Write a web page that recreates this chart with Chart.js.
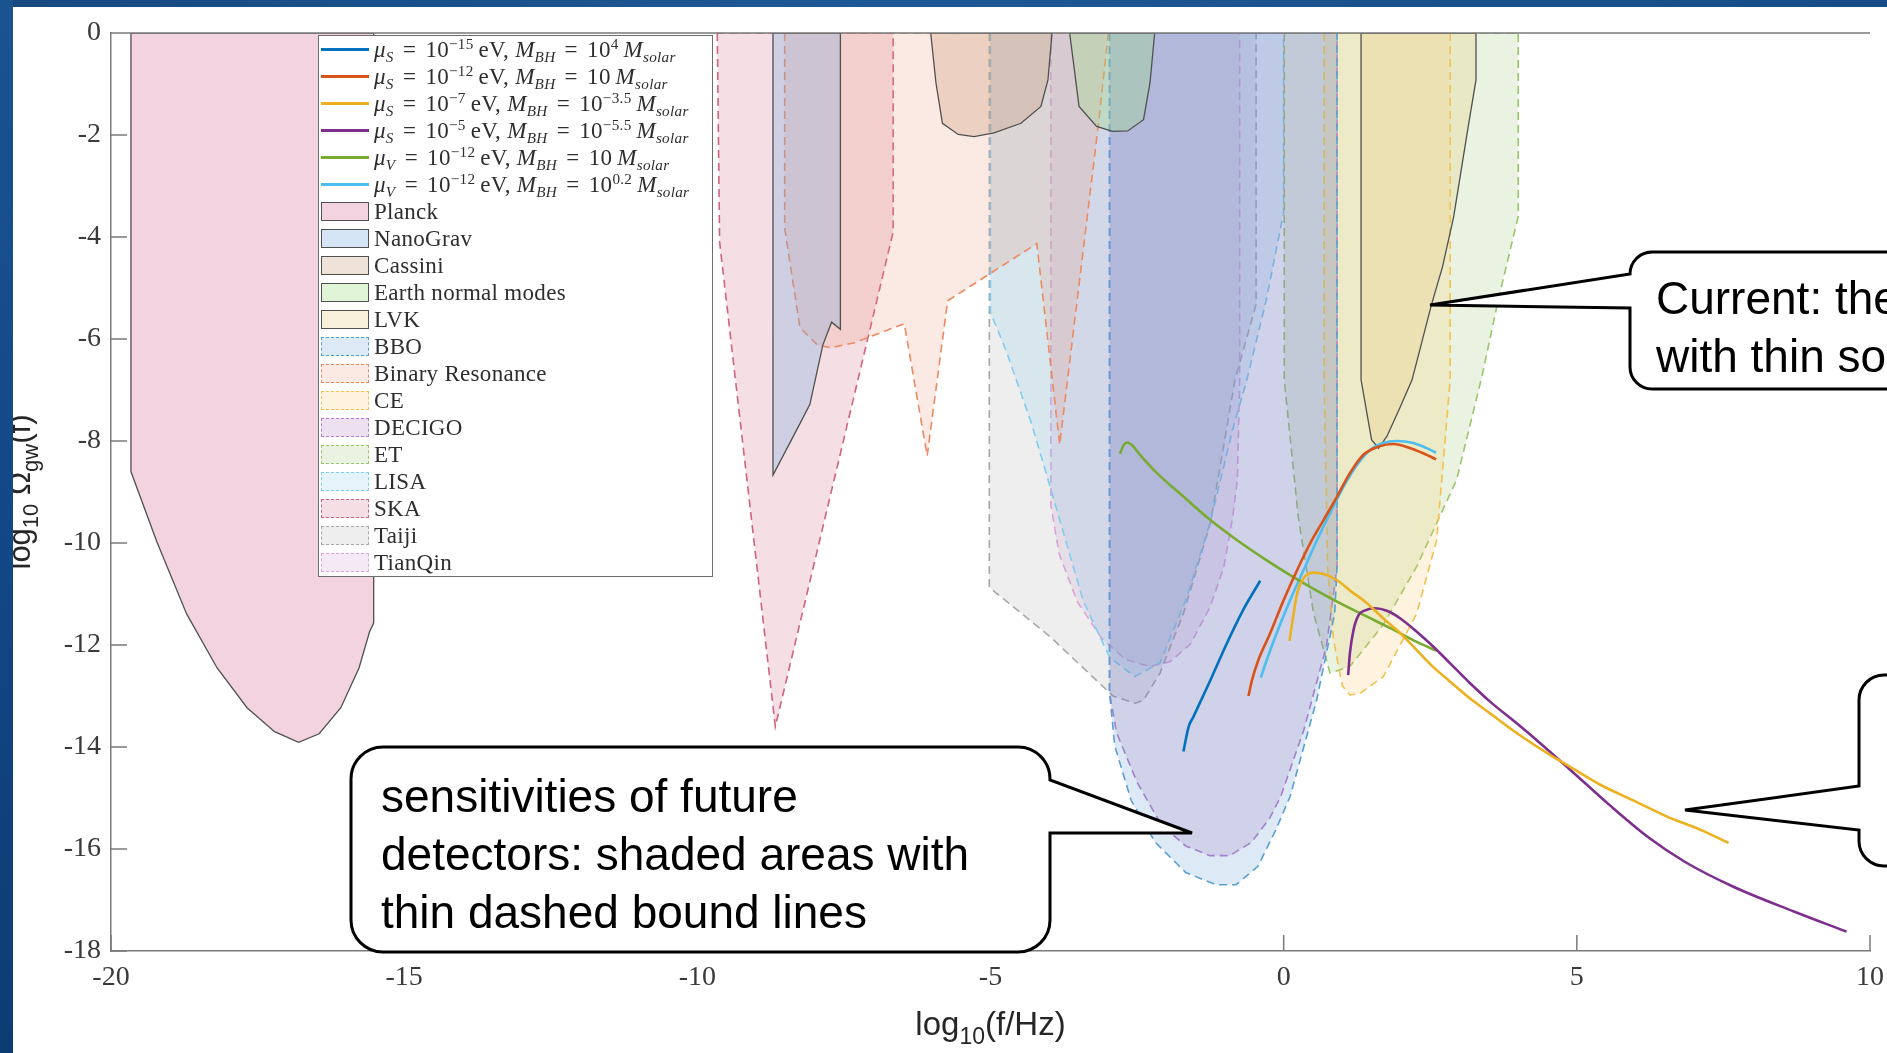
<!DOCTYPE html>
<html>
<head>
<meta charset="utf-8">
<script src="https://cdn.jsdelivr.net/npm/chart.js@4.4.1/dist/chart.umd.min.js"></script>
<style>
  html, body { margin: 0; padding: 0; }
  body {
    width: 1887px; height: 1053px; position: relative; overflow: hidden;
    background: #fff; font-family: "Liberation Sans", Arial, sans-serif;
  }
  #chart { position: absolute; left: 0; top: 0; z-index: 1; }
  #strip-top {
    position: absolute; left: 0; top: 0; width: 1887px; height: 7px; z-index: 6;
    background: linear-gradient(90deg, #17497f 0%, #1d5896 45%, #174c86 100%);
  }
  #strip-left {
    position: absolute; left: 0; top: 0; width: 13px; height: 1053px; z-index: 6;
    background: linear-gradient(180deg, #1b5290 0%, #124886 50%, #0c3c74 100%);
  }
  #legend {
    position: absolute; left: 318px; top: 35px; width: 393px; height: 540px;
    border: 1.3px solid #6e6e6e; background: #fff; z-index: 3;
    font-family: "Liberation Serif", "Times New Roman", serif; font-size: 23px;
    color: #2e2e2e; letter-spacing: 0.3px;
  }
  .row { height: 27px; display: flex; align-items: center; white-space: nowrap; }
  .sw { width: 48px; margin-left: 2px; margin-right: 5px; flex: none; box-sizing: border-box; }
  .sw.line { height: 3px; }
  .sw.box { height: 19px; }
  #legend sub, #legend sup { font-size: 0.66em; line-height: 0; }
  #legend sub { vertical-align: -0.35em; }
  #legend sup { vertical-align: 0.55em; }
  .eq { padding: 0 0.4em; }
  #callouts { position: absolute; left: 0; top: 0; z-index: 4; pointer-events: none; }
  .ctext {
    position: absolute; z-index: 5; font-size: 46px; line-height: 58px; color: #000;
    white-space: nowrap;
  }
</style>
</head>
<body>
<canvas id="chart" width="1887" height="1053"></canvas>
<div id="legend"></div>
<svg id="callouts" width="1887" height="1053">
  <path d="M1630,274 A22,22 0 0 1 1652,252 L1900,252 L1900,389 L1652,389 A22,22 0 0 1 1630,367 L1630,308 L1430,305 Z"
        fill="#fff" stroke="#000" stroke-width="3" stroke-linejoin="miter"/>
  <path d="M383,747 L1018,747 A32,32 0 0 1 1050,779 L1050,780 L1192,833 L1050,833 L1050,920 A32,32 0 0 1 1018,952 L383,952 A32,32 0 0 1 351,920 L351,779 A32,32 0 0 1 383,747 Z"
        fill="#fff" stroke="#000" stroke-width="3" stroke-linejoin="miter"/>
  <path d="M1859,786 L1859,700 A25,25 0 0 1 1884,675 L1900,675 L1900,866 L1884,866 A25,25 0 0 1 1859,841 L1859,830 L1685,810 Z"
        fill="#fff" stroke="#000" stroke-width="3" stroke-linejoin="miter"/>
</svg>
<div class="ctext" style="left:1656px; top:269px;">Current: the constraints: shaded areas<br>with thin solid bound lines</div>
<div class="ctext" style="left:381px; top:767px;">sensitivities of future<br>detectors: shaded areas with<br>thin dashed bound lines</div>
<div id="strip-top"></div>
<div id="strip-left"></div>

<script>
// axis ticks
const xTicks = [-20, -15, -10, -5, 0, 5, 10];
const yTicks = [-18, -16, -14, -12, -10, -8, -6, -4, -2, 0];

// signal curves: x = log10(f/Hz), y = log10 Omega_gw
const blueX = [-1.71, -1.62, -1.54, -1.25, -0.97, -0.69, -0.40];
const blueY = [-14.09, -13.60, -13.41, -12.69, -11.97, -11.31, -10.74];

const orangeX = [-0.60, -0.54, -0.43, -0.23, 0.00, 0.23, 0.45, 0.68, 0.91, 1.13, 1.36, 1.62, 1.87, 2.16, 2.38, 2.60];
const orangeY = [-13.00, -12.69, -12.29, -11.77, -11.12, -10.53, -10.01, -9.55, -9.09, -8.63, -8.27, -8.11, -8.06, -8.14, -8.24, -8.36];

const yellowX = [0.10, 0.17, 0.23, 0.34, 0.51, 0.68, 0.91, 1.13, 1.42, 1.70, 1.99, 2.27, 2.55, 2.84, 3.18, 3.52, 3.98, 4.55, 4.83, 5.40, 5.97, 6.53, 7.10, 7.59];
const yellowY = [-11.92, -11.38, -10.99, -10.69, -10.58, -10.61, -10.73, -10.93, -11.18, -11.48, -11.77, -12.10, -12.43, -12.72, -13.05, -13.34, -13.73, -14.16, -14.35, -14.74, -15.05, -15.36, -15.62, -15.88];

const purpleX = [1.10, 1.13, 1.19, 1.28, 1.39, 1.56, 1.76, 1.99, 2.27, 2.55, 2.84, 3.18, 3.52, 3.98, 4.38, 4.90, 5.54, 6.23, 6.84, 7.67, 8.69, 9.60];
const purpleY = [-12.59, -12.16, -11.71, -11.41, -11.32, -11.28, -11.33, -11.48, -11.74, -12.03, -12.36, -12.75, -13.11, -13.54, -13.93, -14.46, -15.12, -15.78, -16.25, -16.74, -17.22, -17.62];

const greenX = [-2.79, -2.73, -2.67, -2.59, -2.45, -2.16, -1.71, -1.25, -0.80, -0.34, 0.11, 0.45, 0.91, 1.36, 1.82, 2.27, 2.60];
const greenY = [-8.25, -8.08, -8.03, -8.08, -8.27, -8.63, -9.09, -9.55, -9.94, -10.30, -10.63, -10.86, -11.15, -11.41, -11.67, -11.94, -12.11];

const cyanX = [-0.39, -0.29, -0.12, 0.11, 0.34, 0.57, 0.79, 1.02, 1.25, 1.47, 1.70, 1.93, 2.21, 2.44, 2.60];
const cyanY = [-12.64, -12.30, -11.77, -11.12, -10.53, -9.94, -9.42, -8.90, -8.47, -8.18, -8.04, -8.00, -8.04, -8.14, -8.23];

// detector regions (closed outlines)
const planckX = [-19.66, -19.66, -19.22, -18.71, -18.19, -17.68, -17.21, -16.80, -16.45, -16.08, -15.77, -15.59, -15.52, -15.52];
const planckY = [0, -8.60, -9.97, -11.39, -12.45, -13.23, -13.70, -13.91, -13.74, -13.23, -12.45, -11.74, -11.57, 0];

const nanogravX = [-8.71, -8.71, -8.25, -8.08, -7.86, -7.71, -7.56, -7.56];
const nanogravY = [0, -8.67, -7.66, -7.28, -6.12, -5.67, -5.81, 0];

const cassiniX = [-6.02, -5.93, -5.82, -5.55, -5.28, -4.94, -4.48, -4.14, -4.02, -3.95];
const cassiniY = [0, -0.98, -1.77, -1.99, -2.03, -1.96, -1.77, -1.44, -0.92, 0];

const earthX = [-3.65, -3.49, -3.19, -2.92, -2.66, -2.39, -2.28, -2.20];
const earthY = [0, -1.44, -1.83, -1.93, -1.92, -1.70, -0.98, 0];

const lvkX = [1.32, 1.32, 1.42, 1.50, 1.62, 1.76, 1.99, 2.19, 2.52, 2.71, 2.90, 3.13, 3.28, 3.28];
const lvkY = [0, -6.80, -7.46, -7.98, -8.14, -7.91, -7.33, -6.80, -5.33, -4.58, -3.60, -1.96, -0.92, 0];

const bboX = [-2.97, -2.97, -2.88, -2.60, -2.19, -1.67, -1.16, -0.81, -0.44, -0.14, 0.11, 0.56, 0.87, 0.91, 0.91];
const bboY = [0, -12.94, -13.98, -15.05, -15.87, -16.46, -16.70, -16.70, -16.34, -15.64, -14.97, -13.09, -11.39, -10.47, 0];

const resonanceX = [-8.51, -8.51, -8.25, -7.95, -7.73, -7.34, -6.47, -6.08, -5.73, -4.21, -3.82, -3.16, -2.99];
const resonanceY = [0, -3.83, -5.78, -6.12, -6.17, -6.08, -5.70, -8.29, -5.25, -4.13, -8.07, -1.80, 0];

const ceX = [0.69, 0.69, 0.75, 0.85, 1.00, 1.13, 1.30, 1.70, 2.27, 2.61, 2.84, 2.84];
const ceY = [0, -6.80, -10.50, -11.90, -12.80, -12.98, -12.95, -12.62, -11.38, -9.94, -6.80, 0];

const decigoX = [-2.97, -2.97, -2.85, -2.50, -2.09, -1.67, -1.26, -0.92, -0.55, -0.24, -0.05, 0.34, 0.73, 0.91, 0.91];
const decigoY = [0, -12.94, -13.72, -14.69, -15.52, -15.94, -16.13, -16.13, -15.87, -15.40, -14.97, -13.68, -12.02, -10.47, 0];

const etX = [0.01, 0.01, 0.25, 0.51, 0.79, 1.13, 1.70, 2.27, 2.95, 3.38, 3.66, 4.00, 4.00];
const etY = [0, -6.80, -9.50, -11.38, -12.55, -12.42, -11.60, -10.46, -8.76, -6.74, -5.23, -3.60, 0];

const lisaX = [-5.00, -5.00, -4.73, -4.30, -3.97, -3.42, -2.97, -2.54, -2.11, -1.65, -1.24, -0.87, -0.63, -0.30, 0.00, 0.00];
const lisaY = [0, -5.48, -6.24, -7.66, -8.95, -11.13, -12.24, -12.62, -12.35, -11.06, -9.54, -7.77, -6.81, -5.25, -3.52, 0];

const skaX = [-9.66, -9.62, -8.67, -6.66, -6.66];
const skaY = [0, -4.10, -13.60, -3.90, 0];

const taijiX = [-5.02, -5.02, -3.98, -2.91, -2.53, -2.39, -2.11, -1.71, -1.25, -0.83, -0.47, -0.47];
const taijiY = [0, -10.87, -11.84, -13.00, -13.14, -13.08, -12.55, -11.38, -9.61, -6.80, -5.32, 0];

const tianqinX = [-3.97, -3.97, -3.83, -3.52, -3.11, -2.70, -2.29, -1.94, -1.59, -1.26, -1.02, -0.87, -0.79, -0.75, -0.75];
const tianqinY = [0, -9.26, -10.21, -11.15, -11.86, -12.28, -12.42, -12.33, -11.98, -11.27, -10.47, -9.50, -8.77, -6.81, 0];

const curveLabels = [
  '<i>μ</i><sub><i>S</i></sub><span class="eq">=</span>10<sup>−15</sup>&thinsp;eV, <i>M</i><sub><i>BH</i></sub><span class="eq">=</span>10<sup>4</sup>&thinsp;<i>M</i><sub><i>solar</i></sub>',
  '<i>μ</i><sub><i>S</i></sub><span class="eq">=</span>10<sup>−12</sup>&thinsp;eV, <i>M</i><sub><i>BH</i></sub><span class="eq">=</span>10&thinsp;<i>M</i><sub><i>solar</i></sub>',
  '<i>μ</i><sub><i>S</i></sub><span class="eq">=</span>10<sup>−7</sup>&thinsp;eV, <i>M</i><sub><i>BH</i></sub><span class="eq">=</span>10<sup>−3.5</sup>&thinsp;<i>M</i><sub><i>solar</i></sub>',
  '<i>μ</i><sub><i>S</i></sub><span class="eq">=</span>10<sup>−5</sup>&thinsp;eV, <i>M</i><sub><i>BH</i></sub><span class="eq">=</span>10<sup>−5.5</sup>&thinsp;<i>M</i><sub><i>solar</i></sub>',
  '<i>μ</i><sub><i>V</i></sub><span class="eq">=</span>10<sup>−12</sup>&thinsp;eV, <i>M</i><sub><i>BH</i></sub><span class="eq">=</span>10&thinsp;<i>M</i><sub><i>solar</i></sub>',
  '<i>μ</i><sub><i>V</i></sub><span class="eq">=</span>10<sup>−12</sup>&thinsp;eV, <i>M</i><sub><i>BH</i></sub><span class="eq">=</span>10<sup>0.2</sup>&thinsp;<i>M</i><sub><i>solar</i></sub>',
];

const curves = [
  { x: blueX, y: blueY, color: "#0072bd" },
  { x: orangeX, y: orangeY, color: "#d95319" },
  { x: yellowX, y: yellowY, color: "#edb120" },
  { x: purpleX, y: purpleY, color: "#7e2f8e" },
  { x: greenX, y: greenY, color: "#77ac30" },
  { x: cyanX, y: cyanY, color: "#4dbeee" },
];

// solid edge = current bound, dashed = future detector
const regions = [
  { name: "Planck", x: planckX, y: planckY, fill: "rgba(215,108,152,0.3)", edge: "#505050", dashed: false },
  { name: "NanoGrav", x: nanogravX, y: nanogravY, fill: "rgba(115,168,222,0.3)", edge: "#505050", dashed: false },
  { name: "Cassini", x: cassiniX, y: cassiniY, fill: "rgba(190,140,100,0.25)", edge: "#505050", dashed: false },
  { name: "Earth normal modes", x: earthX, y: earthY, fill: "rgba(152,222,125,0.3)", edge: "#505050", dashed: false },
  { name: "LVK", x: lvkX, y: lvkY, fill: "rgba(232,205,125,0.3)", edge: "#505050", dashed: false },
  { name: "BBO", x: bboX, y: bboY, fill: "rgba(85,150,205,0.2)", edge: "#5a9fd4", dashed: true },
  { name: "Binary Resonance", x: resonanceX, y: resonanceY, fill: "rgba(235,145,115,0.2)", edge: "#ec8a63", dashed: true },
  { name: "CE", x: ceX, y: ceY, fill: "rgba(245,195,95,0.2)", edge: "#f2c14e", dashed: true },
  { name: "DECIGO", x: decigoX, y: decigoY, fill: "rgba(165,100,180,0.2)", edge: "#b57bcc", dashed: true },
  { name: "ET", x: etX, y: etY, fill: "rgba(150,195,110,0.2)", edge: "#9bc56b", dashed: true },
  { name: "LISA", x: lisaX, y: lisaY, fill: "rgba(125,195,235,0.2)", edge: "#7fcdf1", dashed: true },
  { name: "SKA", x: skaX, y: skaY, fill: "rgba(205,95,120,0.2)", edge: "#d2637d", dashed: true },
  { name: "Taiji", x: taijiX, y: taijiY, fill: "rgba(170,170,170,0.2)", edge: "#a8a8a8", dashed: true },
  { name: "TianQin", x: tianqinX, y: tianqinY, fill: "rgba(210,145,210,0.2)", edge: "#e0a6e0", dashed: true },
];

function toPoints(xs, ys) {
  return xs.map((x, i) => ({ x, y: ys[i] }));
}

function closedPoints(xs, ys) {
  const pts = toPoints(xs, ys);
  pts.push({ ...pts[0] });
  return pts;
}

const datasets = [];
curves.forEach((c) => {
  datasets.push({
    data: toPoints(c.x, c.y),
    showLine: true,
    borderColor: c.color,
    borderWidth: 2.6,
    pointRadius: 0,
    fill: false,
    cubicInterpolationMode: "monotone",
    order: 0,
  });
});
regions.forEach((r) => {
  datasets.push({
    data: closedPoints(r.x, r.y),
    showLine: true,
    borderColor: r.edge,
    borderWidth: r.dashed ? 1.6 : 1.3,
    borderDash: r.dashed ? [8, 5] : [],
    backgroundColor: r.fill,
    pointRadius: 0,
    fill: "shape",
    tension: 0,
    order: 1,
  });
});

function drawRich(ctx, parts, x, y) {
  let cx = x;
  parts.forEach(([text, size, dy]) => {
    ctx.font = `${size}px "Liberation Sans", Arial, sans-serif`;
    ctx.fillText(text, cx, y + dy);
    cx += ctx.measureText(text).width;
  });
}

function richWidth(ctx, parts) {
  return parts.reduce((w, [text, size]) => {
    ctx.font = `${size}px "Liberation Sans", Arial, sans-serif`;
    return w + ctx.measureText(text).width;
  }, 0);
}

const axisDecor = {
  id: "axisDecor",
  afterDraw(chart) {
    const { ctx, chartArea: a } = chart;
    const xs = chart.scales.x;
    const ys = chart.scales.y;
    ctx.save();
    ctx.strokeStyle = "#7a7a7a";
    ctx.lineWidth = 1.5;
    ctx.beginPath();
    ctx.moveTo(a.left, a.top);
    ctx.lineTo(a.right, a.top);
    xTicks.forEach((v) => {
      const px = xs.getPixelForValue(v);
      ctx.moveTo(px, a.bottom);
      ctx.lineTo(px, a.bottom - 16);
    });
    yTicks.forEach((v) => {
      const py = ys.getPixelForValue(v);
      ctx.moveTo(a.left, py);
      ctx.lineTo(a.left + 16, py);
    });
    ctx.stroke();

    ctx.fillStyle = "#262626";
    ctx.textBaseline = "alphabetic";
    const xTitle = [["log", 33, 0], ["10", 23, 9], ["(f/Hz)", 33, 0]];
    const xw = richWidth(ctx, xTitle);
    drawRich(ctx, xTitle, (a.left + a.right) / 2 - xw / 2, 1035);

    const yTitle = [["log", 31, 0], ["10", 22, 8], [" Ω", 31, 0], ["gw", 22, 8], ["(f)", 31, 0]];
    const yw = richWidth(ctx, yTitle);
    ctx.translate(30, (a.top + a.bottom) / 2);
    ctx.rotate(-Math.PI / 2);
    drawRich(ctx, yTitle, -yw / 2, 0);
    ctx.restore();
  },
};

const tickFont = { family: '"Liberation Serif", "Times New Roman", serif', size: 28 };

new Chart(document.getElementById("chart"), {
  type: "scatter",
  data: { datasets },
  options: {
    responsive: false,
    animation: false,
    events: [],
    layout: { padding: { left: 0, top: 33, right: 17, bottom: 0 } },
    plugins: { legend: { display: false }, tooltip: { enabled: false } },
    scales: {
      x: {
        type: "linear",
        min: -20,
        max: 10,
        afterBuildTicks: (s) => { s.ticks = xTicks.map((v) => ({ value: v })); },
        afterFit: (s) => {
          s.height = 102;
          s.paddingLeft = 0;
          s.paddingRight = 0;
        },
        grid: { display: false, drawTicks: false },
        border: { display: true, color: "#7a7a7a", width: 1.5 },
        ticks: { padding: 10, color: "#3a3a3a", font: tickFont },
      },
      y: {
        type: "linear",
        min: -18,
        max: 0,
        afterBuildTicks: (s) => { s.ticks = yTicks.map((v) => ({ value: v })); },
        afterFit: (s) => {
          s.width = 111;
          s.paddingTop = 0;
          s.paddingBottom = 0;
        },
        grid: { display: false, drawTicks: false },
        border: { display: true, color: "#7a7a7a", width: 1.5 },
        ticks: { padding: 10, color: "#3a3a3a", font: tickFont },
      },
    },
  },
  plugins: [axisDecor],
});

// legend
const legend = document.getElementById("legend");
let html = "";
curves.forEach((c, i) => {
  html += `<div class="row"><span class="sw line" style="background:${c.color}"></span><span>${curveLabels[i]}</span></div>`;
});
regions.forEach((r) => {
  const border = r.dashed ? `1.6px dashed ${r.edge}` : "1.6px solid #505050";
  html += `<div class="row"><span class="sw box" style="background:${r.fill};border:${border}"></span><span>${r.name}</span></div>`;
});
legend.innerHTML = html;
</script>
</body>
</html>
